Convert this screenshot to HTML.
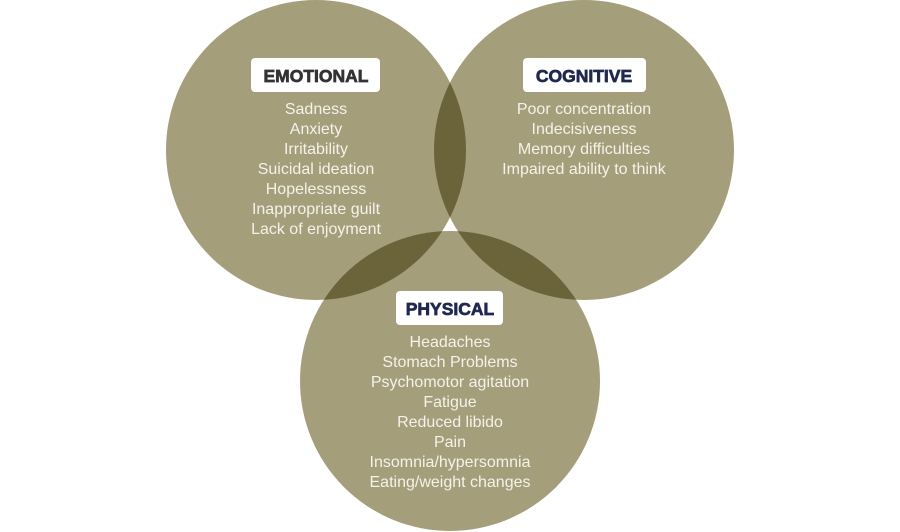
<!DOCTYPE html>
<html><head><meta charset="utf-8"><style>
html,body{margin:0;padding:0;background:#fff;}
svg{display:block;}
text{font-family:"Liberation Sans",Arial,sans-serif;}
.h{font-weight:bold;font-size:17.5px;text-anchor:middle;}
.l{font-size:16px;fill:#f4f2ea;text-anchor:middle;}
</style></head><body>
<svg width="900" height="532" viewBox="0 0 900 532">
<defs>
<clipPath id="cL"><circle cx="316" cy="150" r="150"/></clipPath>
<clipPath id="cR"><circle cx="584" cy="150" r="150"/></clipPath>
</defs>
<circle cx="316" cy="150" r="150" fill="#a59e7b"/>
<circle cx="584" cy="150" r="150" fill="#a59e7b"/>
<circle cx="450" cy="381" r="150" fill="#a59e7b"/>
<circle cx="584" cy="150" r="150" fill="#6b643b" clip-path="url(#cL)"/>
<circle cx="450" cy="381" r="150" fill="#6b643b" clip-path="url(#cL)"/>
<circle cx="450" cy="381" r="150" fill="#6b643b" clip-path="url(#cR)"/>
<rect x="251" y="58" width="129" height="34" rx="4" fill="#fff"/>
<text class="h" x="316" y="82" fill="#333333" stroke="#333333" stroke-width="0.7" font-weight="bold" font-size="17.5">EMOTIONAL</text>
<rect x="523" y="58" width="123" height="34" rx="4" fill="#fff"/>
<text class="h" x="584" y="82" fill="#1f2850" stroke="#1f2850" stroke-width="0.7" font-weight="bold" font-size="17.5">COGNITIVE</text>
<rect x="396" y="291" width="107" height="34" rx="4" fill="#fff"/>
<text class="h" x="450" y="315" fill="#1f2850" stroke="#1f2850" stroke-width="0.7" font-weight="bold" font-size="17.5">PHYSICAL</text>
<text class="l" x="316" y="114">Sadness</text>
<text class="l" x="316" y="134">Anxiety</text>
<text class="l" x="316" y="154">Irritability</text>
<text class="l" x="316" y="174">Suicidal ideation</text>
<text class="l" x="316" y="194">Hopelessness</text>
<text class="l" x="316" y="214">Inappropriate guilt</text>
<text class="l" x="316" y="234">Lack of enjoyment</text>
<text class="l" x="584" y="114">Poor concentration</text>
<text class="l" x="584" y="134">Indecisiveness</text>
<text class="l" x="584" y="154">Memory difficulties</text>
<text class="l" x="584" y="174">Impaired ability to think</text>
<text class="l" x="450" y="347">Headaches</text>
<text class="l" x="450" y="367">Stomach Problems</text>
<text class="l" x="450" y="387">Psychomotor agitation</text>
<text class="l" x="450" y="407">Fatigue</text>
<text class="l" x="450" y="427">Reduced libido</text>
<text class="l" x="450" y="447">Pain</text>
<text class="l" x="450" y="467">Insomnia/hypersomnia</text>
<text class="l" x="450" y="487">Eating/weight changes</text>
</svg>
</body></html>
